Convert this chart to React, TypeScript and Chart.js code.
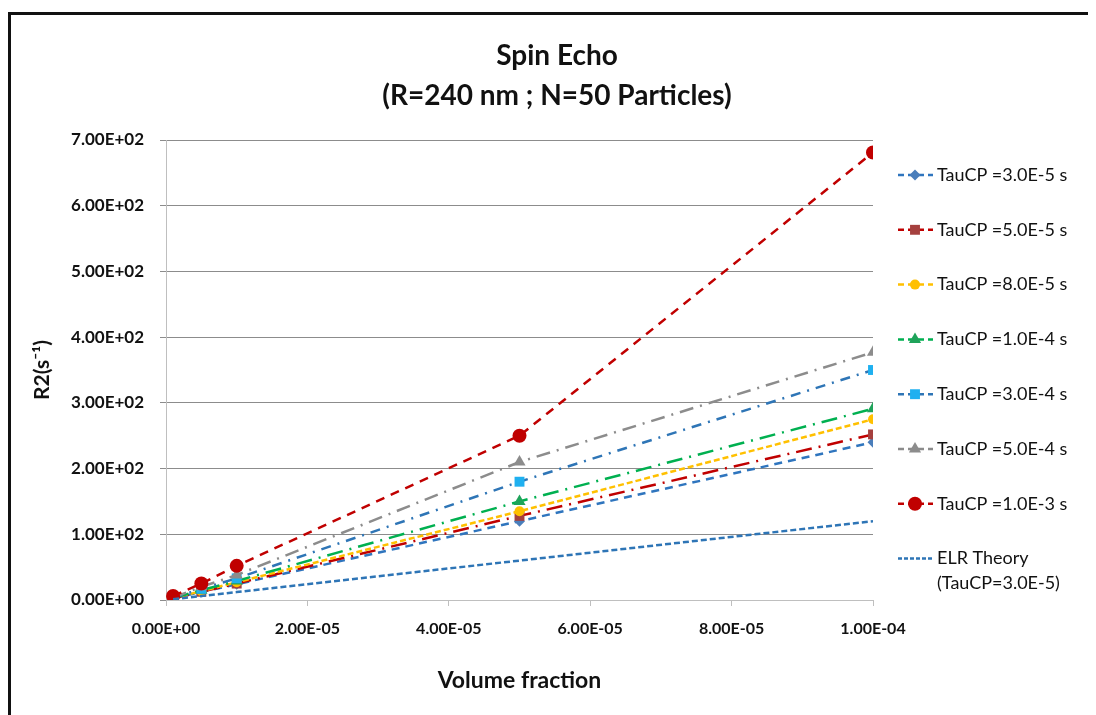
import React, { useEffect, useRef } from "react";
import { Chart, registerables } from "chart.js";

Chart.register(...registerables);

const titleLines = ["Spin Echo", "(R=240 nm ; N=50 Particles)"];
const xTitle = "Volume fraction";
const yTitle = "R2(s\u207B\u00B9)";

const volumeFractions = [1e-6, 5e-6, 1e-5, 5e-5, 1e-4];

const tau3e5 = [2.4, 12, 24, 120, 240];
const tau5e5 = [2.5, 12.5, 25, 128, 252];
const tau8e5 = [2.7, 13.5, 27, 135, 275];
const tau1e4 = [2.9, 15, 29, 150, 291];
const tau3e4 = [3.5, 17, 33, 180, 350];
const tau5e4 = [3.8, 20, 38, 210, 377];
const tau1e3 = [6, 25, 52, 250, 681];
const elrTheory = [1.2, 6, 12, 60, 120];

const seriesLabels = [
  "TauCP =3.0E-5 s",
  "TauCP =5.0E-5 s",
  "TauCP =8.0E-5 s",
  "TauCP =1.0E-4 s",
  "TauCP =3.0E-4 s",
  "TauCP =5.0E-4 s",
  "TauCP =1.0E-3 s",
  "ELR Theory\n(TauCP=3.0E-5)",
];
const seriesValues = [tau3e5, tau5e5, tau8e5, tau1e4, tau3e4, tau5e4, tau1e3, elrTheory];

const lineColors = ["#2F75BE", "#C00000", "#FFC000", "#00B050", "#2E75B6", "#8C8C8C", "#C00000", "#2E75B6"];
const markerColors = ["#4A7EBB", "#A5403E", "#FFC000", "#1FA35A", "#1FB0F0", "#8C8C8C", "#C00000", "#2E75B6"];
const markerStyles = ["rectRot", "rect", "circle", "triangle", "rect", "triangle", "circle", "none"];
const markerSizes = [5.5, 7, 5, 7, 7, 7, 7, 0];
const dashes = [
  [8, 6],
  [16, 7, 2, 7],
  [6, 3],
  [16, 7, 2, 7],
  [10, 7, 2, 7],
  [14, 7, 2, 7],
  [9, 7],
  [6, 3],
];

const yMin = 0;
const yMax = 700;
const yStep = 100;
const xMin = 0;
const xMax = 1e-4;
const xStep = 2e-5;

function sci(v: number): string {
  if (Math.abs(v) < 1e-12) return "0.00E+00";
  const [m, e] = v.toExponential(2).split("e");
  const n = parseInt(e, 10);
  return m.toUpperCase() + "E" + (n < 0 ? "-" : "+") + String(Math.abs(n)).padStart(2, "0");
}

function drawMarker(ctx: CanvasRenderingContext2D, style: string, x: number, y: number, r: number, color: string) {
  ctx.save();
  ctx.setLineDash([]);
  ctx.fillStyle = color;
  ctx.beginPath();
  if (style === "circle") {
    ctx.arc(x, y, r, 0, Math.PI * 2);
  } else if (style === "rect") {
    const h = r * Math.SQRT1_2;
    ctx.rect(x - h, y - h, h * 2, h * 2);
  } else if (style === "rectRot") {
    ctx.moveTo(x, y - r);
    ctx.lineTo(x + r, y);
    ctx.lineTo(x, y + r);
    ctx.lineTo(x - r, y);
    ctx.closePath();
  } else if (style === "triangle") {
    ctx.moveTo(x, y - r);
    ctx.lineTo(x + r * 0.87, y + r * 0.5);
    ctx.lineTo(x - r * 0.87, y + r * 0.5);
    ctx.closePath();
  }
  ctx.fill();
  ctx.restore();
}

const customText = {
  id: "customText",
  afterDraw(chart: any) {
    const ctx: CanvasRenderingContext2D = chart.ctx;
    ctx.save();
    ctx.fillStyle = "#111";
    ctx.textAlign = "center";
    ctx.textBaseline = "middle";
    ctx.font = "bold 28px Lato";
    ctx.fillText(titleLines[0], 546, 41);
    ctx.fillText(titleLines[1], 546, 81);

    const x0 = 887;
    const x1 = 922;
    const xm = 904;
    const tx = 926;
    chart.data.datasets.forEach((ds: any, i: number) => {
      const y = 160 + i * 54.8;
      ctx.save();
      ctx.strokeStyle = lineColors[i];
      ctx.lineWidth = 2.5;
      ctx.setLineDash(i === 7 ? [4, 2] : [6, 4]);
      ctx.beginPath();
      ctx.moveTo(x0, y);
      ctx.lineTo(x1, y);
      ctx.stroke();
      ctx.restore();
      if (markerStyles[i] !== "none") drawMarker(ctx, markerStyles[i], xm, y, markerSizes[i], markerColors[i]);
      ctx.fillStyle = "#111";
      ctx.textAlign = "left";
      ctx.textBaseline = "middle";
      ctx.font = "18px Lato";
      const lines = seriesLabels[i].split("\n");
      lines.forEach((ln, k) => ctx.fillText(ln, tx, y + k * 25));
    });
    ctx.restore();
  },
};

export default function App() {
  const canvasRef = useRef<HTMLCanvasElement | null>(null);

  useEffect(() => {
    if (!canvasRef.current) return;
    const datasets = seriesValues.map((vals, i) => ({
      label: seriesLabels[i],
      data: volumeFractions.map((x, k) => ({ x, y: vals[k] })),
      borderColor: lineColors[i],
      backgroundColor: markerColors[i],
      borderWidth: 2.5,
      borderDash: dashes[i],
      pointStyle: markerStyles[i] === "none" ? false : markerStyles[i],
      pointRadius: markerSizes[i],
      pointBorderWidth: 0,
      pointBackgroundColor: markerColors[i],
      pointBorderColor: markerColors[i],
      tension: 0,
      fill: false,
      order: 8 - i,
    }));
    const chart = new Chart(canvasRef.current, {
      type: "line",
      data: { datasets: datasets as any },
      options: {
        animation: false,
        responsive: true,
        maintainAspectRatio: false,
        layout: { padding: { left: 0, right: 216, top: 125, bottom: 0 } },
        plugins: {
          legend: { display: false },
          title: { display: false },
          tooltip: { enabled: false },
        },
        scales: {
          x: {
            type: "linear",
            min: xMin,
            max: xMax,
            afterFit: (s: any) => {
              s.height = 115;
            },
            ticks: {
              stepSize: xStep,
              callback: (v: any) => sci(Number(v)),
              color: "#111",
              font: { family: "Lato", weight: "bold", size: 16 },
              padding: 13,
              maxRotation: 0,
              autoSkip: false,
            },
            grid: {
              drawOnChartArea: false,
              drawTicks: true,
              tickLength: 6,
              color: "#BFBFBF",
            },
            border: { color: "#BFBFBF", width: 1 },
            title: {
              display: true,
              text: xTitle,
              color: "#111",
              font: { family: "Lato", weight: "bold", size: 23 },
              padding: { top: 0, bottom: 21 },
            },
          },
          y: {
            type: "linear",
            min: yMin,
            max: yMax,
            afterFit: (s: any) => {
              s.width = 155;
            },
            ticks: {
              stepSize: yStep,
              callback: (v: any) => sci(Number(v)),
              color: "#111",
              font: { family: "Lato", weight: "bold", size: 17 },
              padding: 16,
            },
            grid: {
              color: "#8C8C8C",
              lineWidth: 1,
              tickLength: 6,
              drawTicks: true,
            },
            border: { color: "#BFBFBF", width: 1 },
            title: {
              display: true,
              text: yTitle,
              color: "#111",
              font: { family: "Lato", weight: "bold", size: 21 },
              padding: { top: 19, bottom: 0 },
            },
          },
        },
      },
      plugins: [customText],
    });
    return () => chart.destroy();
  }, []);

  return (
    <div
      style={{
        marginTop: 4,
        width: 1084,
        height: 712,
        boxSizing: "border-box",
        border: "3px solid #111",
        background: "#fff",
      }}
    >
      <div style={{ position: "relative", width: 1078, height: 700 }}>
        <canvas ref={canvasRef} />
      </div>
    </div>
  );
}
